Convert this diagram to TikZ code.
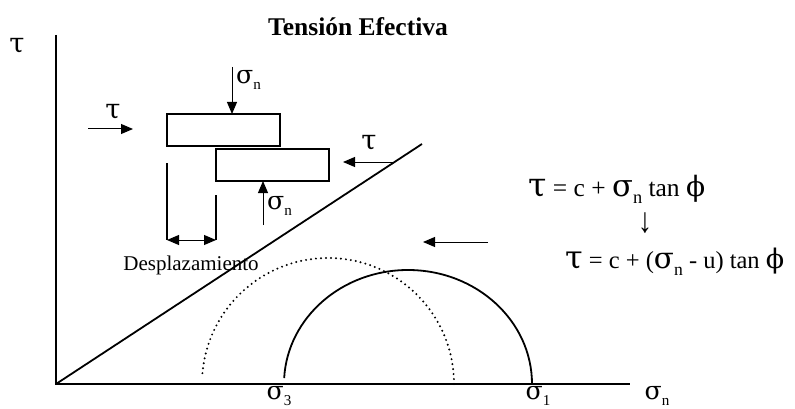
\documentclass[tikz,border=0pt]{standalone}
\usepackage{fontspec}
\setmainfont{Liberation Serif}
\newfontfamily\greekf{DejaVu Serif}
\usetikzlibrary{arrows.meta}
\newcommand{\gtau}{{\greekf\scalebox{1.3}{τ}}}
\newcommand{\gsig}{{\greekf\scalebox{1.2}{σ}}}
\newcommand{\gphi}{{\greekf\scalebox{1.1}{ϕ}}}
\newcommand{\lowsub}[1]{\raisebox{-0.28em}{\scalebox{0.72}{#1}}}
\begin{document}
\begin{tikzpicture}[x=1pt,y=-1pt,
  axis/.style={line width=2pt},
  arr/.style={line width=1pt,-{Triangle[length=12pt,width=10pt]}},
  darr/.style={line width=1pt,{Triangle[length=12pt,width=10pt]}-{Triangle[length=12pt,width=10pt]}},
  blk/.style={draw,line width=2pt,minimum width=113pt,minimum height=32pt,inner sep=0pt,outer sep=0pt},
  lbl/.style={inner sep=0pt,font=\fontsize{21}{24}\selectfont},
  eqbig/.style={inner sep=0pt,font=\fontsize{25.5}{30}\selectfont},
  eqmid/.style={inner sep=0pt,font=\fontsize{24.5}{30}\selectfont}]
\useasboundingbox (0,0) rectangle (795,409);
% title
\node[inner sep=0pt,font=\fontsize{25.5}{28}\selectfont\bfseries] (title) at (358,27) {Tensión Efectiva};
% axes
\coordinate (O) at (56,384);
\coordinate (ytop) at (56,35);
\coordinate (xend) at (630,384);
\draw[axis] (ytop) -- (O) -- (xend);
\node[lbl] (tauax) at (17,46) {\gtau};
\node[lbl] (snax) at (657,396) {\gsig\lowsub{n}};
\node[lbl] (s3) at (279,396) {\gsig\lowsub{3}};
\node[lbl] (s1) at (538,396) {\gsig\lowsub{1}};
% failure line
\coordinate (fend) at (422,144);
\draw[line width=1.8pt] (O) -- (fend);
% circles
\draw[line width=1.8pt] (532,384) arc[start angle=0,end angle=177,x radius=124,y radius=-114];
\draw[line width=2.2pt,line cap=round,dash pattern=on 0pt off 5pt] (454,384) arc[start angle=0,end angle=177,x radius=126,y radius=-126];
% blocks
\node[blk] (b1) at (223.5,130) {};
\node[blk] (b2) at (272,165) {};
% sigma_n top
\coordinate (snt) at (232,67);
\draw[arr] (snt) -- (snt |- b1.north);
\node[lbl,anchor=west] (snt lbl) at (236,80) {\gsig\lowsub{n}};
% tau left
\coordinate (tl1) at (88,129);
\coordinate (tl2) at (133,129);
\draw[arr] (tl1) -- (tl2);
\node[lbl] (tl lbl) at (113,112) {\gtau};
% tau right
\coordinate (tr1) at (393,162);
\coordinate (tr2) at (343,162);
\draw[arr] (tr1) -- (tr2);
\node[lbl] (tr lbl) at (369,143) {\gtau};
% sigma_n bottom
\coordinate (snb) at (263,225);
\draw[arr] (snb) -- (snb |- b2.south);
\node[lbl,anchor=west] (snb lbl) at (267,206) {\gsig\lowsub{n}};
% displacement
\coordinate (dl1) at (167,163);
\coordinate (dl2) at (167,240);
\coordinate (dr1) at (216,195);
\coordinate (dr2) at (216,240);
\draw[line width=2pt] (dl1) -- (dl2);
\draw[line width=2pt] (dr1) -- (dr2);
\draw[darr] (dl2) -- (dr2);
\node[inner sep=0pt,font=\fontsize{21}{24}\selectfont] (desp) at (191,265) {Desplazamiento};
% right arrow
\coordinate (ra1) at (488,242);
\coordinate (ra2) at (423,242);
\draw[arr] (ra1) -- (ra2);
% equations
\node[eqbig,anchor=west] (eq1) at (528,189) {\gtau{} = c + \gsig\lowsub{n} tan \gphi};
\node[inner sep=0pt,font=\fontsize{22}{24}\selectfont] (darrow) at (645,223) {\scalebox{1.3}[1.6]{↓}};
\node[eqmid,anchor=west] (eq2) at (565,262) {\gtau{} = c + (\gsig\lowsub{n} - u) tan \gphi};
\end{tikzpicture}
\end{document}
